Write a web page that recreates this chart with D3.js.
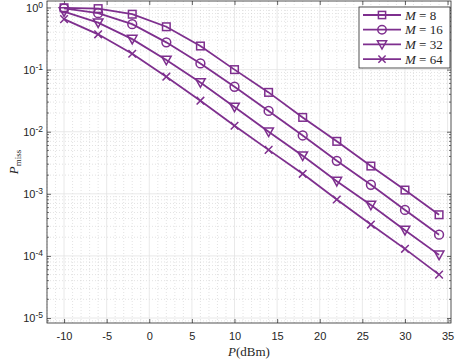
<!DOCTYPE html>
<html lang="en">
<head>
<meta charset="utf-8">
<title>Pmiss vs P</title>
<style>
body { margin: 0; background: #fff; }
svg text { fill: #262626; }
.tick text { font-family: "Liberation Sans", Arial, sans-serif; font-size: 11px; }
.tex { font-family: "Liberation Serif", "DejaVu Serif", serif; }
</style>
</head>
<body>
<div id="chartID"></div>
<script src="https://d3js.org/d3.v7.min.js"></script>
<script>
// power in dBm
var powers = [-10, -6, -2, 2, 6, 10, 14, 18, 22, 26, 30, 34];
var labels = ["M = 8", "M = 16", "M = 32", "M = 64"];
var markers = ["square", "circle", "triangle", "cross"];
var m8  = [0.99, 0.96, 0.78, 0.49, 0.24, 0.10, 0.043, 0.017, 0.0070, 0.0028, 0.00115, 0.00046];
var m16 = [0.97, 0.81, 0.54, 0.275, 0.126, 0.053, 0.0216, 0.0087, 0.0034, 0.0014, 0.00055, 0.00022];
var m32 = [0.86, 0.57, 0.31, 0.143, 0.062, 0.025, 0.010, 0.0041, 0.0016, 0.00066, 0.00026, 0.000104];
var m64 = [0.65, 0.37, 0.18, 0.077, 0.0316, 0.0125, 0.0051, 0.0021, 0.00081, 0.00032, 0.00013, 0.00005];
var series = [m8, m16, m32, m64];
var xTicks = [-10, -5, 0, 5, 10, 15, 20, 25, 30, 35];
var yTicks = [1, 1e-1, 1e-2, 1e-3, 1e-4, 1e-5];

var color = "#7E2F8E";
var W = 458, H = 362;
var margin = {top: 1, right: 7, bottom: 39, left: 47};
var width = W - margin.left - margin.right;
var height = H - margin.top - margin.bottom;

var svg = d3.select("#chartID").append("svg").attr("width", W).attr("height", H);
var g = svg.append("g").attr("transform", "translate(" + margin.left + "," + margin.top + ")");

var x = d3.scaleLinear().domain([-12, 35.4]).range([0, width]);
var y = d3.scaleLog().domain([Math.pow(10, -5.08), Math.pow(10, 0.105)]).range([height, 0]);

// minor grid
var xMinor = d3.range(-12, 36, 1).filter(function(d) { return d % 5 !== 0; });
var yMinor = [];
[-6, -5, -4, -3, -2, -1, 0].forEach(function(e) {
  for (var k = 2; k <= 9; k++) yMinor.push(k * Math.pow(10, e));
});
yMinor = yMinor.filter(function(v) { return v > y.domain()[0] && v < y.domain()[1]; });

g.append("g").selectAll("line").data(xMinor).enter().append("line")
  .attr("x1", function(d) { return x(d); }).attr("x2", function(d) { return x(d); })
  .attr("y1", 0).attr("y2", height)
  .attr("stroke", "#d0d0d0").attr("stroke-width", 0.6).attr("stroke-dasharray", "1,2");
g.append("g").selectAll("line").data(yMinor).enter().append("line")
  .attr("y1", function(d) { return y(d); }).attr("y2", function(d) { return y(d); })
  .attr("x1", 0).attr("x2", width)
  .attr("stroke", "#d0d0d0").attr("stroke-width", 0.6).attr("stroke-dasharray", "1,2");

// major grid
g.append("g").selectAll("line").data(xTicks).enter().append("line")
  .attr("x1", function(d) { return x(d); }).attr("x2", function(d) { return x(d); })
  .attr("y1", 0).attr("y2", height)
  .attr("stroke", "#e3e3e3").attr("stroke-width", 0.8);
g.append("g").selectAll("line").data(yTicks).enter().append("line")
  .attr("y1", function(d) { return y(d); }).attr("y2", function(d) { return y(d); })
  .attr("x1", 0).attr("x2", width)
  .attr("stroke", "#e3e3e3").attr("stroke-width", 0.8);

// axes
function styleAxis(sel) {
  sel.select(".domain").remove();
  sel.selectAll(".tick line").attr("stroke", "#262626").attr("stroke-width", 0.7);
}

g.append("g").attr("transform", "translate(0," + height + ")")
  .call(d3.axisBottom(x).tickValues(xTicks).tickSize(-4).tickPadding(9)
    .tickFormat(function(d) { return String(d); }))
  .call(styleAxis);
g.append("g")
  .call(d3.axisTop(x).tickValues(xTicks).tickSize(-4).tickFormat(""))
  .call(styleAxis);

var yAxis = g.append("g")
  .call(d3.axisLeft(y).tickValues(yTicks).tickSize(-4).tickFormat(""))
  .call(styleAxis);
yAxis.selectAll(".tick").append("text")
  .attr("x", -4).attr("dy", "0.32em").attr("text-anchor", "end")
  .each(function(d) {
    var e = Math.round(Math.log10(d));
    var t = d3.select(this);
    t.append("tspan").text("10");
    t.append("tspan").attr("dy", "-0.45em").style("font-size", "8.5px").text(String(e));
  });

g.append("g").attr("transform", "translate(" + width + ",0)")
  .call(d3.axisRight(y).tickValues(yTicks).tickSize(-4).tickFormat(""))
  .call(styleAxis);
// minor y ticks
[0, width].forEach(function(px) {
  var dir = px === 0 ? 1 : -1;
  g.append("g").selectAll("line").data(yMinor).enter().append("line")
    .attr("x1", px).attr("x2", px + dir * 2)
    .attr("y1", function(d) { return y(d); }).attr("y2", function(d) { return y(d); })
    .attr("stroke", "#262626").attr("stroke-width", 0.6);
});

// box
g.append("rect").attr("width", width).attr("height", height)
  .attr("fill", "none").attr("stroke", "#262626").attr("stroke-width", 0.8);

// marker drawing
function drawMarker(sel, type, s) {
  if (type === "square") {
    sel.append("rect").attr("x", -s).attr("y", -s).attr("width", 2 * s).attr("height", 2 * s)
      .attr("fill", "none").attr("stroke", color).attr("stroke-width", 1.5);
  } else if (type === "circle") {
    sel.append("circle").attr("r", s + 0.6)
      .attr("fill", "none").attr("stroke", color).attr("stroke-width", 1.5);
  } else if (type === "triangle") {
    sel.append("path").attr("d", "M" + (-s - 1) + "," + (-s) + "L" + (s + 1) + "," + (-s) + "L0," + (s + 1) + "Z")
      .attr("fill", "none").attr("stroke", color).attr("stroke-width", 1.5);
  } else {
    sel.append("path").attr("d", "M" + (-s) + "," + (-s) + "L" + s + "," + s + "M" + (-s) + "," + s + "L" + s + "," + (-s))
      .attr("fill", "none").attr("stroke", color).attr("stroke-width", 1.5);
  }
}

var line = d3.line().x(function(d) { return x(d[0]); }).y(function(d) { return y(d[1]); });

series.forEach(function(vals, i) {
  var pts = powers.map(function(p, j) { return [p, vals[j]]; });
  g.append("path").datum(pts).attr("d", line)
    .attr("fill", "none").attr("stroke", color).attr("stroke-width", 1.8);
  g.append("g").selectAll("g").data(pts).enter().append("g")
    .attr("transform", function(d) { return "translate(" + x(d[0]) + "," + y(d[1]) + ")"; })
    .each(function() { drawMarker(d3.select(this), markers[i], 3.8); });
});

// legend
var lg = svg.append("g").attr("transform", "translate(359,7)");
lg.append("rect").attr("width", 91).attr("height", 61)
  .attr("fill", "#fff").attr("stroke", "#262626").attr("stroke-width", 0.8);
labels.forEach(function(lab, i) {
  var row = lg.append("g").attr("transform", "translate(0," + (8 + i * 14.7) + ")");
  row.append("line").attr("x1", 4).attr("x2", 42).attr("stroke", color).attr("stroke-width", 1.8);
  var mk = row.append("g").attr("transform", "translate(23,0)");
  drawMarker(mk, markers[i], 3.6);
  var parts = lab.split(" = ");
  var t = row.append("text").attr("class", "tex").attr("x", 46).attr("dy", "0.35em")
    .style("font-size", "13px");
  t.append("tspan").style("font-style", "italic").text(parts[0]);
  t.append("tspan").text(" = " + parts[1]);
});

// axis labels
var xl = svg.append("text").attr("class", "tex").attr("x", margin.left + width / 2).attr("y", 356)
  .attr("text-anchor", "middle").style("font-size", "13px");
xl.append("tspan").style("font-style", "italic").text("P");
xl.append("tspan").text("(dBm)");

var yl = svg.append("text").attr("class", "tex")
  .attr("transform", "translate(18," + (margin.top + height / 2) + ") rotate(-90)")
  .attr("text-anchor", "middle").style("font-size", "13px");
yl.append("tspan").style("font-style", "italic").text("P");
yl.append("tspan").attr("dy", "0.3em").style("font-size", "9px").text("miss");
</script>
</body>
</html>
